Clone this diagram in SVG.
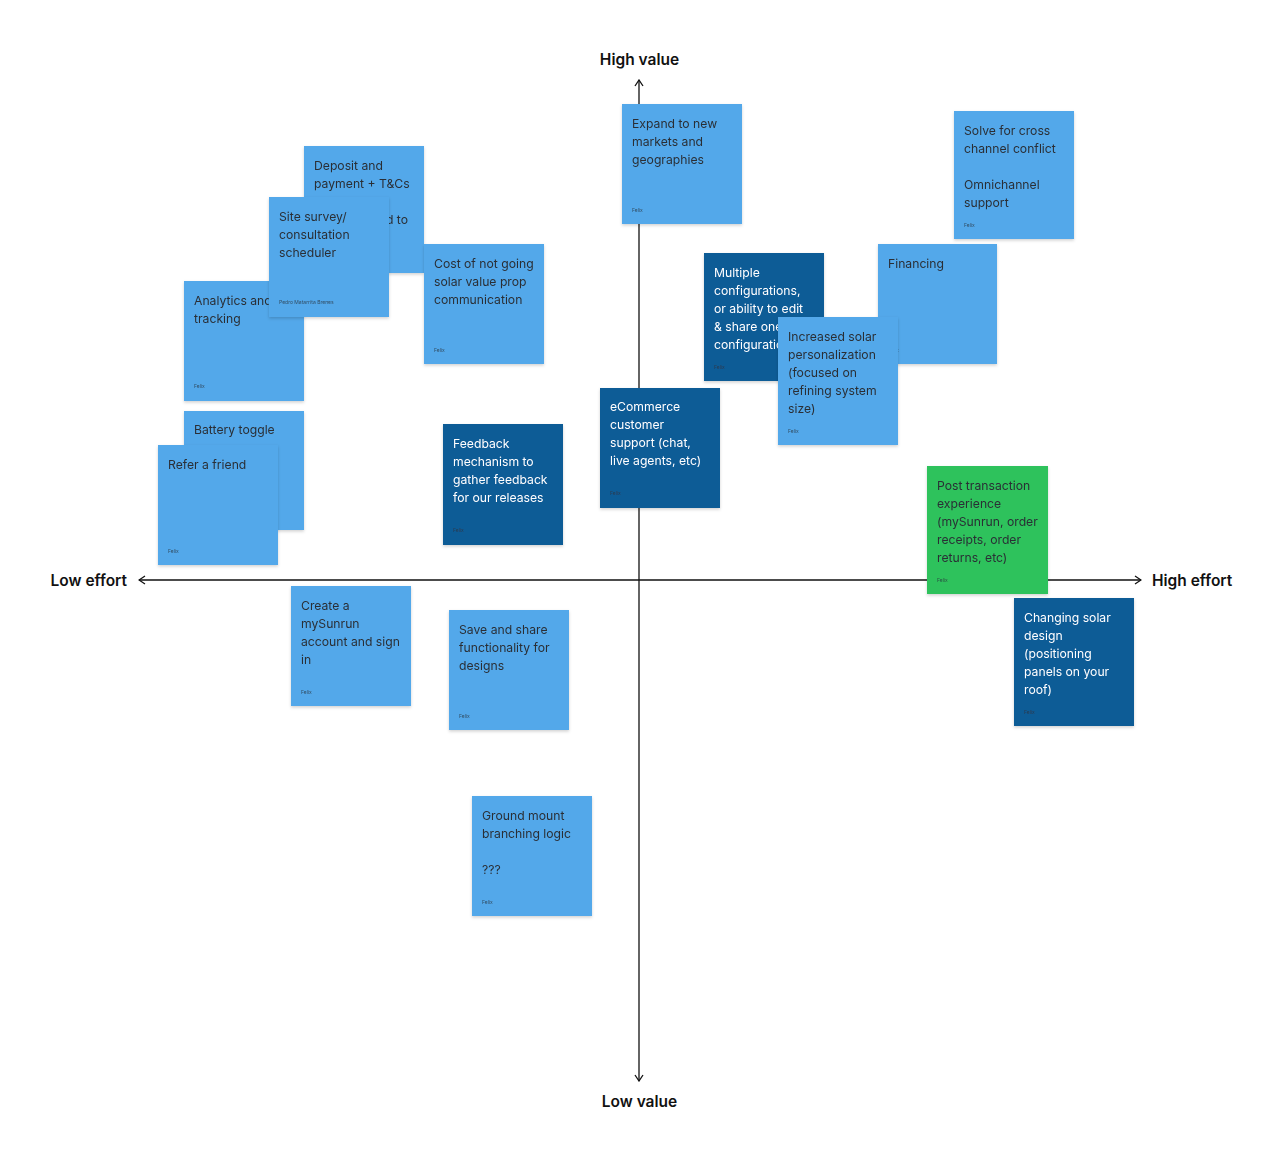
<svg xmlns="http://www.w3.org/2000/svg" width="1284" height="1162" viewBox="0 0 1284 1162">
<defs>
<style>
.n{stroke:none}
.lb{fill:#52A8EA}
.db{fill:#115B96}
.gr{fill:#2EC25B}
.t{font-family:Inter,"Liberation Sans",sans-serif;font-size:12.2px;fill:#2B2F36}
.tw{font-family:Inter,"Liberation Sans",sans-serif;font-size:12.2px;fill:#FFFFFF}
.a{font-family:Inter,"Liberation Sans",sans-serif;font-size:5px;fill:#2B3540;opacity:0.8}
.ax{font-family:Inter,"Liberation Sans",sans-serif;font-size:15.5px;font-weight:600;fill:#111}
.axl{stroke:#111;stroke-width:1.3;fill:none}
</style>
<filter id="sh" x="-10%" y="-10%" width="130%" height="130%">
<feDropShadow dx="0" dy="1.5" stdDeviation="1.5" flood-color="#000" flood-opacity="0.18"/>
</filter>
<marker id="arr" viewBox="0 0 10 10" refX="9" refY="5" markerWidth="10" markerHeight="10" markerUnits="userSpaceOnUse" orient="auto">
<path d="M3,1 L9,5 L3,9" fill="none" stroke="#111" stroke-width="1.3"/>
</marker>
</defs>
<rect width="1284" height="1162" fill="#fff"/>
<g id="connectors">
<line class="axl" x1="639" y1="580" x2="1141" y2="580" marker-end="url(#arr)"/>
<line class="axl" x1="639" y1="580" x2="139" y2="580" marker-end="url(#arr)"/>
<line class="axl" x1="639" y1="580" x2="639" y2="80" marker-end="url(#arr)"/>
<line class="axl" x1="639" y1="580" x2="639" y2="1081" marker-end="url(#arr)"/>
</g>
<g id="axis-labels">
<text class="ax" x="639.5" y="65" text-anchor="middle">High value</text>
<text class="ax" x="639.5" y="1107" text-anchor="middle">Low value</text>
<text class="ax" x="127" y="586" text-anchor="end">Low effort</text>
<text class="ax" x="1152" y="586">High effort</text>
</g>
<g id="deposit" filter="url(#sh)">
<rect class="lb" x="304" y="146" width="120" height="127"/>
<text class="t" x="314" y="169.5">Deposit and</text>
<text class="t" x="314" y="187.5">payment + T&amp;Cs</text>
<text class="t" x="408" y="223.5" text-anchor="end">d to</text>
</g>
<g id="analytics" filter="url(#sh)">
<rect class="lb" x="184" y="281" width="120" height="120"/>
<text class="t" x="194" y="304.5">Analytics and</text>
<text class="t" x="194" y="322.5">tracking</text>
<text class="a" x="194" y="388">Felix</text>
</g>
<g id="site-survey" filter="url(#sh)">
<rect class="lb" x="269" y="197" width="120" height="120"/>
<text class="t" x="279" y="220.5">Site survey/</text>
<text class="t" x="279" y="238.5">consultation</text>
<text class="t" x="279" y="256.5">scheduler</text>
<text class="a" x="279" y="304">Pedro Matarrita Brenes</text>
</g>
<g id="cost" filter="url(#sh)">
<rect class="lb" x="424" y="244" width="120" height="120"/>
<text class="t" x="434" y="268">Cost of not going</text>
<text class="t" x="434" y="286">solar value prop</text>
<text class="t" x="434" y="304">communication</text>
<text class="a" x="434" y="352">Felix</text>
</g>
<g id="expand" filter="url(#sh)">
<rect class="lb" x="622" y="104" width="120" height="120"/>
<text class="t" x="632" y="128">Expand to new</text>
<text class="t" x="632" y="146">markets and</text>
<text class="t" x="632" y="164">geographies</text>
<text class="a" x="632" y="212">Felix</text>
</g>
<g id="solve" filter="url(#sh)">
<rect class="lb" x="954" y="111" width="120" height="128"/>
<text class="t" x="964" y="135">Solve for cross</text>
<text class="t" x="964" y="153">channel conflict</text>
<text class="t" x="964" y="189">Omnichannel</text>
<text class="t" x="964" y="207">support</text>
<text class="a" x="964" y="227">Felix</text>
</g>
<g id="multiple" filter="url(#sh)">
<rect class="db" x="704" y="253" width="120" height="128"/>
<text class="tw" x="714" y="276.5">Multiple</text>
<text class="tw" x="714" y="294.5">configurations,</text>
<text class="tw" x="714" y="312.5">or ability to edit</text>
<text class="tw" x="714" y="330.5">&amp; share one</text>
<text class="tw" x="714" y="348.5">configuration</text>
<text class="a" x="714" y="369">Felix</text>
</g>
<g id="financing" filter="url(#sh)">
<rect class="lb" x="878" y="244" width="119" height="120"/>
<text class="t" x="888" y="268">Financing</text>
<text class="a" x="888" y="352">Felix</text>
</g>
<g id="increased" filter="url(#sh)">
<rect class="lb" x="778" y="317" width="120" height="128"/>
<text class="t" x="788" y="340.5">Increased solar</text>
<text class="t" x="788" y="358.5">personalization</text>
<text class="t" x="788" y="376.5">(focused on</text>
<text class="t" x="788" y="394.5">refining system</text>
<text class="t" x="788" y="412.5">size)</text>
<text class="a" x="788" y="433">Felix</text>
</g>
<g id="battery" filter="url(#sh)">
<rect class="lb" x="184" y="411" width="120" height="119"/>
<text class="t" x="194" y="434">Battery toggle</text>
</g>
<g id="refer" filter="url(#sh)">
<rect class="lb" x="158" y="445" width="120" height="120"/>
<text class="t" x="168" y="469">Refer a friend</text>
<text class="a" x="168" y="553">Felix</text>
</g>
<g id="feedback" filter="url(#sh)">
<rect class="db" x="443" y="424" width="120" height="121"/>
<text class="tw" x="453" y="448">Feedback</text>
<text class="tw" x="453" y="466">mechanism to</text>
<text class="tw" x="453" y="484">gather feedback</text>
<text class="tw" x="453" y="502">for our releases</text>
<text class="a" x="453" y="532">Felix</text>
</g>
<g id="ecommerce" filter="url(#sh)">
<rect class="db" x="600" y="388" width="120" height="120"/>
<text class="tw" x="610" y="411">eCommerce</text>
<text class="tw" x="610" y="429">customer</text>
<text class="tw" x="610" y="447">support (chat,</text>
<text class="tw" x="610" y="465">live agents, etc)</text>
<text class="a" x="610" y="495">Felix</text>
</g>
<g id="post-transaction" filter="url(#sh)">
<rect class="gr" x="927" y="466" width="121" height="128"/>
<text class="t" x="937" y="490">Post transaction</text>
<text class="t" x="937" y="508">experience</text>
<text class="t" x="937" y="526">(mySunrun, order</text>
<text class="t" x="937" y="544">receipts, order</text>
<text class="t" x="937" y="562">returns, etc)</text>
<text class="a" x="937" y="582">Felix</text>
</g>
<g id="changing" filter="url(#sh)">
<rect class="db" x="1014" y="598" width="120" height="128"/>
<text class="tw" x="1024" y="621.5">Changing solar</text>
<text class="tw" x="1024" y="639.5">design</text>
<text class="tw" x="1024" y="657.5">(positioning</text>
<text class="tw" x="1024" y="675.5">panels on your</text>
<text class="tw" x="1024" y="693.5">roof)</text>
<text class="a" x="1024" y="714">Felix</text>
</g>
<g id="create" filter="url(#sh)">
<rect class="lb" x="291" y="586" width="120" height="120"/>
<text class="t" x="301" y="610">Create a</text>
<text class="t" x="301" y="628">mySunrun</text>
<text class="t" x="301" y="646">account and sign</text>
<text class="t" x="301" y="664">in</text>
<text class="a" x="301" y="694">Felix</text>
</g>
<g id="save" filter="url(#sh)">
<rect class="lb" x="449" y="610" width="120" height="120"/>
<text class="t" x="459" y="634">Save and share</text>
<text class="t" x="459" y="652">functionality for</text>
<text class="t" x="459" y="670">designs</text>
<text class="a" x="459" y="718">Felix</text>
</g>
<g id="ground" filter="url(#sh)">
<rect class="lb" x="472" y="796" width="120" height="120"/>
<text class="t" x="482" y="820">Ground mount</text>
<text class="t" x="482" y="838">branching logic</text>
<text class="t" x="482" y="874">???</text>
<text class="a" x="482" y="904">Felix</text>
</g>
</svg>
